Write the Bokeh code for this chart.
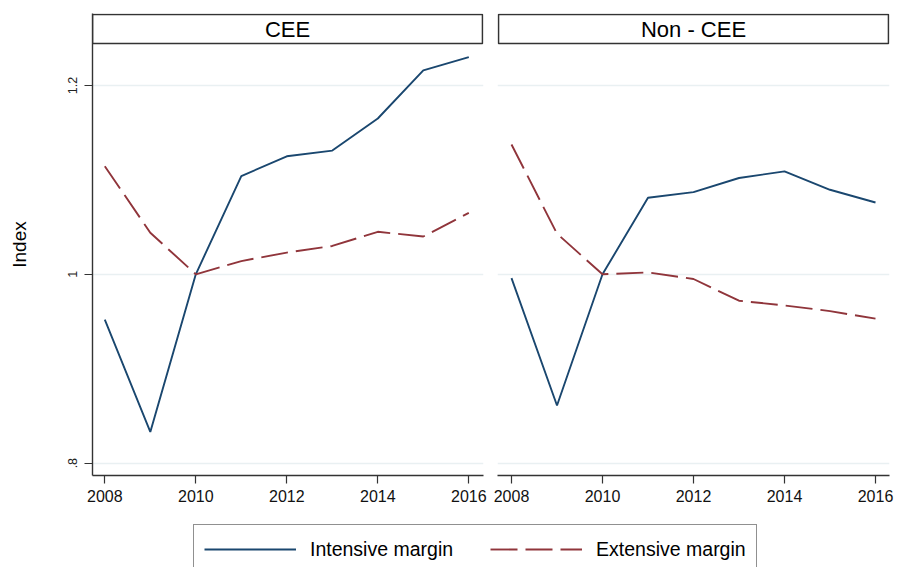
from bokeh.plotting import figure
from bokeh.models import Range1d, FixedTicker, Legend, LegendItem, Label
from bokeh.layouts import row, column
from bokeh.embed import file_html
from bokeh.resources import INLINE

# values
years = [2008, 2009, 2010, 2011, 2012, 2013, 2014, 2015, 2016]
cee_intensive = [0.952, 0.833, 1.000, 1.104, 1.125, 1.131, 1.165, 1.216, 1.230]
cee_extensive = [1.1145, 1.044, 1.000, 1.014, 1.023, 1.030, 1.045, 1.040, 1.065]
noncee_intensive = [0.996, 0.861, 1.000, 1.081, 1.087, 1.102, 1.109, 1.0895, 1.076]
noncee_extensive = [1.1375, 1.043, 1.000, 1.002, 0.995, 0.972, 0.967, 0.961, 0.953]

panel_titles = ["CEE", "Non - CEE"]
series_names = ["Intensive margin", "Extensive margin"]
x_ticks = [2008, 2010, 2012, 2014, 2016]
y_ticks = [0.8, 1.0, 1.2]
y_tick_labels = {0.8: ".8", 1.0: "1", 1.2: "1.2"}

BLUE = "#1a476f"
RED = "#90353b"
GRID = "#e9f0f2"
AXIS = "#333333"
FONT = "Liberation Sans"

# y range (frame 13..475 px), header band at the top of the frame
Y_START, Y_END = 0.7869, 1.2762
HEAD_BOTTOM, HEAD_TOP = 1.2444, 1.2751


def panel(title, intensive, extensive, x_range, head_x, width, border_left,
          border_right, show_y):
    p = figure(width=width, height=515, x_range=Range1d(*x_range),
               y_range=Range1d(Y_START, Y_END),
               y_axis_location="left" if show_y else None,
               output_backend="svg", toolbar_location=None, tools="",
               min_border_left=border_left, min_border_right=border_right,
               min_border_top=13, min_border_bottom=40)
    p.outline_line_color = None
    p.background_fill_color = "white"
    p.border_fill_color = "white"

    p.xgrid.visible = False
    p.ygrid.ticker = FixedTicker(ticks=y_ticks)
    p.ygrid.grid_line_color = GRID
    p.ygrid.grid_line_width = 1.5

    xa = p.xaxis[0]
    xa.ticker = FixedTicker(ticks=x_ticks)
    xa.axis_line_color = AXIS
    xa.axis_line_width = 1.4
    xa.major_tick_line_color = AXIS
    xa.major_tick_line_width = 1.2
    xa.major_tick_out = 8
    xa.major_tick_in = 0
    xa.minor_tick_line_color = None
    xa.major_label_standoff = 6
    xa.major_label_text_font = FONT
    xa.major_label_text_font_size = "16px"
    xa.major_label_text_color = "#111111"

    if show_y:
        ya = p.yaxis[0]
        ya.ticker = FixedTicker(ticks=y_ticks)
        ya.major_label_overrides = y_tick_labels
        ya.major_label_orientation = "vertical"
        ya.axis_line_color = AXIS
        ya.axis_line_width = 1.4
        ya.major_tick_line_color = AXIS
        ya.major_tick_line_width = 1.2
        ya.major_tick_out = 8
        ya.major_tick_in = 0
        ya.minor_tick_line_color = None
        ya.major_label_standoff = 7
        ya.major_label_text_font = FONT
        ya.major_label_text_font_size = "12.5px"
        ya.major_label_text_color = "#222222"
        ya.axis_label = "Index"
        ya.axis_label_text_font = FONT
        ya.axis_label_text_font_size = "19px"
        ya.axis_label_text_font_style = "normal"
        ya.axis_label_text_color = "#000000"
        ya.axis_label_standoff = 36

    # panel header box
    p.quad(left=head_x[0], right=head_x[1], bottom=HEAD_BOTTOM, top=HEAD_TOP,
           fill_color="white", line_color=AXIS, line_width=1.6)
    p.add_layout(Label(x=(head_x[0] + head_x[1]) / 2,
                       y=(HEAD_BOTTOM + HEAD_TOP) / 2, text=title,
                       text_align="center", text_baseline="middle",
                       text_font=FONT, text_font_size="22px",
                       text_color="#000000"))

    p.line(years, intensive, line_color=BLUE, line_width=1.9)
    p.line(years, extensive, line_color=RED, line_width=1.9,
           line_dash="27 8")
    return p


left = panel(panel_titles[0], cee_intensive, cee_extensive,
             (2007.7297, 2016.323), (2007.7297, 2016.301),
             width=490, border_left=92, border_right=7, show_y=True)
right = panel(panel_titles[1], noncee_intensive, noncee_extensive,
              (2007.6923, 2016.3077), (2007.7143, 2016.2857),
              width=405, border_left=7, border_right=6, show_y=False)

# legend strip under the two panels; its two lines sit outside its y range,
# they only lend their style to the legend keys
leg = figure(width=895, height=52, x_range=Range1d(2008, 2016),
             y_range=Range1d(-2, -1),
             x_axis_location=None, y_axis_location=None,
             output_backend="svg", toolbar_location=None, tools="",
             min_border=0)
leg.outline_line_color = None
leg.xgrid.visible = False
leg.ygrid.visible = False
r_int = leg.line(years, cee_intensive, line_color=BLUE, line_width=1.9)
r_ext = leg.line(years, cee_extensive, line_color=RED, line_width=1.9,
                 line_dash="27 8")
legend = Legend(items=[LegendItem(label=series_names[0], renderers=[r_int]),
                       LegendItem(label=series_names[1], renderers=[r_ext])],
                orientation="horizontal", location=(193, -7),
                glyph_width=92, glyph_height=28, label_height=28,
                label_standoff=14, spacing=37, padding=10, margin=0,
                label_text_font=FONT, label_text_font_size="19.5px",
                label_text_color="#000000",
                border_line_color="#222222", border_line_width=1.6,
                background_fill_color="white", background_fill_alpha=1)
leg.add_layout(legend, "center")

layout = column(row(left, right), leg)
open("out.html", "w").write(file_html(layout, INLINE))
